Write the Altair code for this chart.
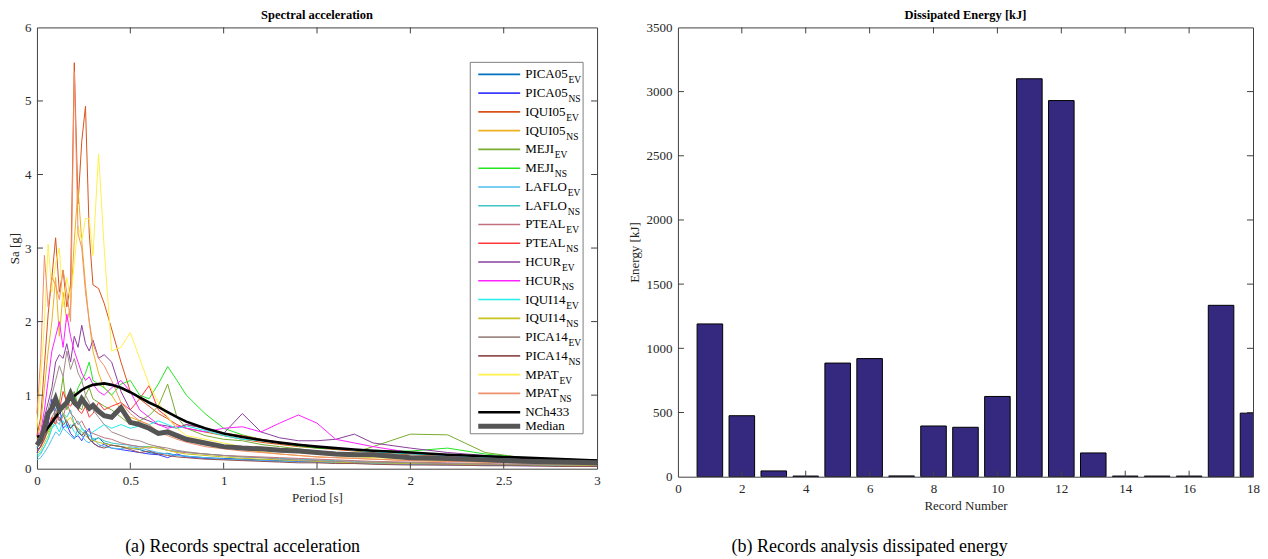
import altair as alt
import pandas as pd

SERIF = "Liberation Serif"

# ---------------- data: spectral acceleration ----------------
periods = [0, 0.02, 0.04, 0.06, 0.08, 0.10, 0.12, 0.14, 0.16, 0.18,
           0.20, 0.22, 0.24, 0.26, 0.28, 0.30, 0.33, 0.36, 0.40, 0.45,
           0.50, 0.55, 0.60, 0.65, 0.70, 0.75, 0.80, 0.90, 1.0, 1.1,
           1.2, 1.3, 1.4, 1.5, 1.6, 1.7, 1.8, 2.0, 2.2, 2.4,
           2.6, 2.8, 3.0]

record_names = ["PICA05", "PICA05", "IQUI05", "IQUI05", "MEJI", "MEJI",
                "LAFLO", "LAFLO", "PTEAL", "PTEAL", "HCUR", "HCUR",
                "IQUI14", "IQUI14", "PICA14", "PICA14", "MPAT", "MPAT"]
record_comps = ["EV", "NS"] * 9
record_colors = ["#0072BD", "#3a3aff", "#D95319", "#EDB120", "#77AC30", "#22e622",
                 "#4DBEEE", "#40c4c4", "#c2727e", "#ff3838", "#8a3f9c", "#ff22ff",
                 "#22eeee", "#c8c420", "#a08a88", "#935050", "#fff04a", "#f0906c"]

sa_pica05_ev = [0.28, 0.35, 0.55, 0.70, 0.92, 0.80, 0.65, 0.75, 0.60, 0.55,
                0.62, 0.50, 0.45, 0.52, 0.40, 0.38, 0.42, 0.35, 0.32, 0.30,
                0.28, 0.26, 0.22, 0.20, 0.21, 0.18, 0.17, 0.15, 0.14, 0.13,
                0.12, 0.11, 0.10, 0.10, 0.09, 0.08, 0.08, 0.07, 0.06, 0.05,
                0.05, 0.04, 0.04]
sa_pica05_ns = [0.22, 0.30, 0.45, 0.60, 0.95, 0.70, 0.85, 0.55, 0.60, 0.48,
                0.42, 0.45, 0.38, 0.48, 0.55, 0.35, 0.30, 0.33, 0.28, 0.26,
                0.24, 0.22, 0.20, 0.19, 0.15, 0.20, 0.16, 0.14, 0.13, 0.12,
                0.11, 0.10, 0.10, 0.09, 0.08, 0.08, 0.07, 0.06, 0.05, 0.05,
                0.04, 0.04, 0.03]
sa_iqui05_ev = [0.45, 0.70, 1.40, 2.10, 2.60, 3.14, 2.40, 2.70, 2.20, 2.50,
                5.52, 3.60, 4.45, 4.93, 3.20, 2.50, 2.45, 2.25, 1.90, 1.45,
                1.05, 0.95, 0.85, 0.75, 0.68, 0.60, 0.55, 0.50, 0.45, 0.40,
                0.36, 0.33, 0.30, 0.28, 0.26, 0.24, 0.22, 0.19, 0.17, 0.15,
                0.13, 0.12, 0.11]
sa_iqui05_ns = [0.40, 0.60, 1.10, 1.60, 2.00, 2.60, 1.80, 2.40, 2.00, 2.20,
                3.10, 3.80, 3.10, 2.50, 2.00, 1.60, 1.30, 1.10, 1.00, 0.80,
                0.70, 0.65, 0.60, 0.50, 0.48, 0.42, 0.38, 0.33, 0.30, 0.26,
                0.23, 0.20, 0.18, 0.16, 0.15, 0.14, 0.13, 0.11, 0.10, 0.09,
                0.08, 0.07, 0.07]
sa_meji_ev = [0.30, 0.35, 0.45, 0.55, 0.65, 0.70, 0.90, 1.25, 0.80, 0.95,
              1.05, 0.85, 0.80, 1.00, 1.10, 0.95, 0.90, 0.85, 0.80, 0.70,
              0.60, 0.65, 0.72, 0.85, 1.15, 0.70, 0.55, 0.45, 0.40, 0.38,
              0.33, 0.30, 0.27, 0.24, 0.22, 0.22, 0.30, 0.47, 0.46, 0.22,
              0.15, 0.13, 0.11]
sa_meji_ns = [0.30, 0.35, 0.42, 0.50, 0.60, 0.75, 0.85, 0.80, 0.95, 1.00,
              0.90, 1.10, 1.20, 1.30, 1.45, 1.20, 1.15, 1.10, 1.00, 1.15,
              1.20, 1.00, 0.95, 1.15, 1.39, 1.20, 1.00, 0.75, 0.55, 0.46,
              0.40, 0.35, 0.31, 0.28, 0.27, 0.26, 0.25, 0.24, 0.28, 0.20,
              0.15, 0.13, 0.11]
sa_laflo_ev = [0.12, 0.15, 0.22, 0.30, 0.40, 0.50, 0.45, 0.55, 0.50, 0.45,
               0.40, 0.55, 0.45, 0.38, 0.35, 0.42, 0.33, 0.30, 0.28, 0.27,
               0.30, 0.28, 0.25, 0.22, 0.20, 0.18, 0.17, 0.15, 0.13, 0.12,
               0.11, 0.10, 0.09, 0.09, 0.08, 0.08, 0.07, 0.06, 0.06, 0.05,
               0.05, 0.04, 0.04]
sa_laflo_ns = [0.15, 0.20, 0.30, 0.40, 0.55, 0.65, 0.60, 0.75, 0.70, 0.80,
               0.60, 0.65, 0.55, 0.50, 0.45, 0.40, 0.42, 0.38, 0.35, 0.33,
               0.32, 0.30, 0.30, 0.28, 0.25, 0.24, 0.22, 0.20, 0.18, 0.16,
               0.15, 0.14, 0.13, 0.12, 0.11, 0.10, 0.09, 0.08, 0.07, 0.06,
               0.05, 0.05, 0.04]
sa_pteal_ev = [0.25, 0.30, 0.45, 0.55, 0.70, 0.80, 0.65, 0.70, 0.90, 0.75,
               0.70, 0.60, 0.65, 0.55, 0.50, 0.48, 0.45, 0.42, 0.40, 0.35,
               0.32, 0.30, 0.28, 0.30, 0.25, 0.23, 0.22, 0.20, 0.18, 0.17,
               0.16, 0.15, 0.14, 0.13, 0.12, 0.11, 0.10, 0.09, 0.08, 0.07,
               0.06, 0.06, 0.05]
sa_pteal_ns = [0.25, 0.30, 0.40, 0.55, 0.70, 0.60, 0.80, 1.05, 0.90, 0.85,
               0.95, 0.80, 0.75, 0.85, 0.70, 0.75, 0.90, 0.80, 0.85, 0.90,
               0.80, 0.95, 1.13, 0.80, 0.70, 0.55, 0.60, 0.55, 0.48, 0.45,
               0.40, 0.36, 0.33, 0.30, 0.28, 0.26, 0.24, 0.20, 0.18, 0.16,
               0.14, 0.13, 0.12]
sa_hcur_ev = [0.35, 0.45, 0.70, 0.90, 1.10, 1.45, 1.55, 1.50, 1.70, 1.45,
              1.80, 1.65, 1.95, 1.70, 1.60, 1.75, 1.50, 1.55, 1.45, 1.05,
              0.80, 0.70, 0.65, 0.60, 0.58, 0.55, 0.60, 0.55, 0.48, 0.75,
              0.50, 0.42, 0.38, 0.38, 0.40, 0.47, 0.35, 0.28, 0.22, 0.18,
              0.15, 0.13, 0.12]
sa_hcur_ns = [0.45, 0.50, 0.80, 1.20, 1.60, 1.80, 2.00, 1.65, 2.10, 1.80,
              1.60, 1.45, 1.30, 1.20, 1.25, 1.15, 1.05, 1.00, 1.10, 1.20,
              1.05, 0.80, 0.70, 0.60, 0.55, 0.58, 0.55, 0.50, 0.55, 0.57,
              0.50, 0.62, 0.73, 0.62, 0.40, 0.35, 0.30, 0.22, 0.18, 0.15,
              0.13, 0.12, 0.10]
sa_iqui14_ev = [0.18, 0.22, 0.30, 0.40, 0.55, 0.60, 0.50, 0.65, 0.55, 0.60,
                0.50, 0.45, 0.55, 0.48, 0.45, 0.50, 0.55, 0.60, 0.55, 0.60,
                0.55, 0.58, 0.60, 0.65, 0.60, 0.55, 0.58, 0.52, 0.45, 0.40,
                0.38, 0.35, 0.33, 0.30, 0.28, 0.25, 0.23, 0.20, 0.18, 0.15,
                0.13, 0.12, 0.10]
sa_iqui14_ns = [0.20, 0.25, 0.35, 0.45, 0.60, 0.70, 0.85, 0.75, 0.65, 0.70,
                0.60, 0.55, 0.50, 0.45, 0.40, 0.38, 0.36, 0.34, 0.32, 0.30,
                0.28, 0.27, 0.30, 0.28, 0.25, 0.22, 0.20, 0.18, 0.16, 0.14,
                0.13, 0.12, 0.11, 0.10, 0.09, 0.08, 0.08, 0.07, 0.06, 0.06,
                0.05, 0.05, 0.04]
sa_pica14_ev = [0.30, 0.40, 0.60, 0.80, 1.00, 1.20, 1.40, 1.25, 1.60, 1.35,
                1.50, 1.30, 1.20, 1.00, 0.90, 0.80, 0.70, 0.60, 0.50, 0.45,
                0.40, 0.38, 0.33, 0.30, 0.28, 0.25, 0.23, 0.20, 0.18, 0.16,
                0.15, 0.13, 0.12, 0.11, 0.10, 0.09, 0.09, 0.08, 0.07, 0.06,
                0.06, 0.05, 0.05]
sa_pica14_ns = [0.25, 0.30, 0.40, 0.55, 0.65, 0.75, 0.70, 0.60, 0.65, 0.55,
                0.60, 0.50, 0.45, 0.50, 0.40, 0.35, 0.30, 0.28, 0.32, 0.30,
                0.26, 0.22, 0.24, 0.20, 0.18, 0.16, 0.15, 0.13, 0.12, 0.11,
                0.10, 0.09, 0.08, 0.08, 0.07, 0.07, 0.06, 0.05, 0.05, 0.04,
                0.04, 0.03, 0.03]
sa_mpat_ev = [0.55, 1.20, 2.00, 3.05, 2.40, 2.80, 3.00, 2.20, 2.60, 2.30,
              2.80, 3.30, 3.10, 3.40, 3.40, 2.90, 4.28, 3.00, 1.60, 1.65,
              1.85, 1.50, 1.15, 0.90, 0.70, 0.55, 0.45, 0.40, 0.35, 0.30,
              0.27, 0.24, 0.22, 0.20, 0.18, 0.16, 0.15, 0.13, 0.11, 0.10,
              0.09, 0.08, 0.07]
sa_mpat_ns = [0.75, 1.50, 2.90, 2.20, 2.60, 2.50, 2.30, 2.70, 2.40, 2.00,
              5.40, 3.20, 3.00, 2.40, 2.00, 1.70, 1.50, 1.40, 1.20, 0.90,
              0.75, 0.65, 0.60, 0.50, 0.45, 0.40, 0.36, 0.30, 0.27, 0.24,
              0.22, 0.20, 0.18, 0.16, 0.15, 0.14, 0.13, 0.11, 0.10, 0.09,
              0.08, 0.07, 0.06]
sa_nch433 = [0.43, 0.45, 0.50, 0.56, 0.63, 0.70, 0.77, 0.84, 0.90, 0.95,
             0.99, 1.03, 1.07, 1.10, 1.12, 1.14, 1.15, 1.16, 1.14, 1.10,
             1.04, 0.97, 0.90, 0.84, 0.77, 0.70, 0.64, 0.55, 0.48, 0.43,
             0.39, 0.355, 0.325, 0.30, 0.28, 0.26, 0.245, 0.22, 0.19, 0.17,
             0.15, 0.13, 0.11]
sa_median = [0.32, 0.40, 0.55, 0.75, 0.82, 0.95, 0.80, 0.85, 0.90, 1.02,
             0.90, 0.85, 0.95, 0.88, 0.82, 0.86, 0.78, 0.72, 0.70, 0.83,
             0.63, 0.60, 0.55, 0.48, 0.50, 0.45, 0.40, 0.35, 0.30, 0.28,
             0.27, 0.25, 0.24, 0.22, 0.20, 0.19, 0.19, 0.15, 0.14, 0.12,
             0.10, 0.09, 0.08]

series_values = [sa_pica05_ev, sa_pica05_ns, sa_iqui05_ev, sa_iqui05_ns,
                 sa_meji_ev, sa_meji_ns, sa_laflo_ev, sa_laflo_ns,
                 sa_pteal_ev, sa_pteal_ns, sa_hcur_ev, sa_hcur_ns,
                 sa_iqui14_ev, sa_iqui14_ns, sa_pica14_ev, sa_pica14_ns,
                 sa_mpat_ev, sa_mpat_ns]

# ---------------- data: dissipated energy ----------------
record_numbers = list(range(1, 19))
energy_kj = [1190, 475, 45, 5, 885, 920, 6, 395, 385, 625,
             3100, 2930, 185, 5, 5, 5, 1335, 495]

title_left = "Spectral acceleration"
title_right = "Dissipated Energy [kJ]"
caption_left = "(a) Records spectral acceleration"
caption_right = "(b) Records analysis dissipated energy"
legend_extra = ["NCh433", "Median"]

# ---------------- tables ----------------
keys = [f"{n}_{c}" for n, c in zip(record_names, record_comps)]
rows = []
for k, vals in zip(keys, series_values):
    for t, v in zip(periods, vals):
        rows.append({"key": k, "T": t, "Sa": v})
df_rec = pd.DataFrame(rows)
df_nch = pd.DataFrame({"T": periods, "Sa": sa_nch433})
df_med = pd.DataFrame({"T": periods, "Sa": sa_median})

# Times-like glyph widths (per 1000 em) to place legend subscripts
char_w = {"P": 556, "I": 333, "C": 667, "A": 722, "Q": 722, "U": 722, "M": 889,
          "E": 611, "J": 389, "L": 611, "F": 556, "O": 722, "T": 611, "H": 722,
          "R": 667, "N": 722}
kern = {("P", "A"): -92, ("A", "T"): -111}
LEG_FS = 13


def text_w(s, size):
    w = sum(char_w.get(ch, 500) for ch in s)
    w += sum(kern.get((a, b), 0) for a, b in zip(s, s[1:]))
    return w * size / 1000.0


leg = pd.DataFrame({
    "key": keys + legend_extra,
    "label": record_names + legend_extra,
    "sub": record_comps + ["", ""],
    "row": list(range(20)),
})
leg["sx"] = [489 + text_w(n, LEG_FS) + 0.8 for n in leg["label"]]

df_bar = pd.DataFrame({"rec": record_numbers, "energy": energy_kj})

AX = "#404040"


def xticks(vals, scale, axis, h, tl=6):
    d = pd.DataFrame({"v": vals})
    b = alt.Chart(d).mark_rule(color=AX, strokeWidth=1).encode(
        x=alt.X("v:Q", scale=scale, axis=axis), y=alt.value(h), y2=alt.value(h - tl))
    t = alt.Chart(d).mark_rule(color=AX, strokeWidth=1).encode(
        x=alt.X("v:Q", scale=scale, axis=axis), y=alt.value(0), y2=alt.value(tl))
    return [b, t]


def yticks(vals, scale, axis, w, tl=6):
    d = pd.DataFrame({"v": vals})
    l = alt.Chart(d).mark_rule(color=AX, strokeWidth=1).encode(
        y=alt.Y("v:Q", scale=scale, axis=axis), x=alt.value(0), x2=alt.value(tl))
    r = alt.Chart(d).mark_rule(color=AX, strokeWidth=1).encode(
        y=alt.Y("v:Q", scale=scale, axis=axis), x=alt.value(w), x2=alt.value(w - tl))
    return [l, r]


# ---------------- left panel ----------------
W1, H1 = 561, 442
xs1 = alt.Scale(domain=[0, 3], nice=False, zero=False)
ys1 = alt.Scale(domain=[0, 6], nice=False)
color_scale = alt.Scale(domain=keys, range=record_colors)

x_axis1 = alt.Axis(values=[0, 0.5, 1, 1.5, 2, 2.5, 3], labelExpr="'' + datum.value",
                   title="Period [s]", titlePadding=4)
y_axis1 = alt.Axis(values=[0, 1, 2, 3, 4, 5, 6], title="Sa [g]", titlePadding=3)

rec_lines = alt.Chart(df_rec).mark_line(strokeWidth=1).encode(
    x=alt.X("T:Q", scale=xs1, axis=x_axis1),
    y=alt.Y("Sa:Q", scale=ys1, axis=y_axis1),
    color=alt.Color("key:N", scale=color_scale, legend=None),
)
nch_line = alt.Chart(df_nch).mark_line(strokeWidth=2.6, color="black").encode(
    x=alt.X("T:Q", scale=xs1, axis=x_axis1), y=alt.Y("Sa:Q", scale=ys1, axis=y_axis1))
med_line = alt.Chart(df_med).mark_line(strokeWidth=5, color="#555555").encode(
    x=alt.X("T:Q", scale=xs1, axis=x_axis1), y=alt.Y("Sa:Q", scale=ys1, axis=y_axis1))

ticks1 = (xticks([0.5, 1, 1.5, 2, 2.5], xs1, x_axis1, H1)
          + yticks([1, 2, 3, 4, 5], ys1, y_axis1, W1))

# legend (drawn on top)
leg_box = alt.Chart(pd.DataFrame({"a": [0]})).mark_rect(
    fill="white", stroke="#808080", strokeWidth=1).encode(
    x=alt.value(434), x2=alt.value(547), y=alt.value(35), y2=alt.value(407))
leg_base = alt.Chart(leg).transform_calculate(
    ly="datum.row < 18 ? 47 + 18.8 * datum.row : 385.4 + 14 * (datum.row - 18)")
ly_enc = alt.Y("ly:Q", scale=None)
leg_rec = leg_base.transform_filter("datum.row < 18").mark_rule(strokeWidth=1.6).encode(
    x=alt.value(442), x2=alt.value(484), y=ly_enc,
    color=alt.Color("key:N", scale=color_scale, legend=None))
leg_nch = leg_base.transform_filter("datum.row == 18").mark_rule(
    strokeWidth=2.6, color="black").encode(x=alt.value(442), x2=alt.value(484), y=ly_enc)
leg_med = leg_base.transform_filter("datum.row == 19").mark_rule(
    strokeWidth=5, color="#555555").encode(x=alt.value(442), x2=alt.value(484), y=ly_enc)
leg_txt = leg_base.mark_text(align="left", baseline="middle", font=SERIF,
                             fontSize=LEG_FS, color="black").encode(
    x=alt.value(489), y=ly_enc, text="label:N")
leg_sub = leg_base.transform_filter("datum.row < 18").mark_text(
    align="left", baseline="middle", font=SERIF, fontSize=9.5, color="black", dy=6).encode(
    x=alt.X("sx:Q", scale=None), y=ly_enc, text="sub:N")

cap_left = alt.Chart(pd.DataFrame({"t": [caption_left]})).mark_text(
    font=SERIF, fontSize=18, color="black", align="center", baseline="middle").encode(
    x=alt.value(206), y=alt.value(520), text="t:N")

left = alt.layer(rec_lines, nch_line, med_line, *ticks1,
                 leg_box, leg_rec, leg_nch, leg_med, leg_txt, leg_sub, cap_left).properties(
    width=W1, height=H1,
    title=alt.Title(title_left, offset=0))

# ---------------- right panel ----------------
W2, H2 = 576, 450
xs2 = alt.Scale(domain=[0, 18], nice=False, zero=False)
ys2 = alt.Scale(domain=[0, 3500], nice=False)
x_axis2 = alt.Axis(values=list(range(0, 19, 2)), format="d", title="Record Number",
                   titlePadding=4)
y_axis2 = alt.Axis(values=list(range(0, 3501, 500)), format="d", title="Energy [kJ]",
                   titlePadding=4)

bars = alt.Chart(df_bar).transform_calculate(
    x0="datum.rec - 0.4", x1="datum.rec + 0.4", base="0").mark_bar(
    fill="#34297f", stroke="black", strokeWidth=1, clip=True).encode(
    x=alt.X("x0:Q", scale=xs2, axis=x_axis2),
    x2="x1:Q",
    y=alt.Y("energy:Q", scale=ys2, axis=y_axis2),
    y2="base:Q",
)
ticks2 = (xticks(list(range(2, 18, 2)), xs2, x_axis2, H2)
          + yticks(list(range(500, 3500, 500)), ys2, y_axis2, W2))

cap_right = alt.Chart(pd.DataFrame({"t": [caption_right]})).mark_text(
    font=SERIF, fontSize=18, color="black", align="center", baseline="middle").encode(
    x=alt.value(192), y=alt.value(520), text="t:N")

right = alt.layer(bars, *ticks2, cap_right).properties(
    width=W2, height=H2,
    title=alt.Title(title_right, offset=0))

chart = alt.hconcat(left, right, spacing=20).properties(padding=0).configure_view(
    stroke=AX, strokeWidth=1
).configure_axis(
    labelFont=SERIF, labelFontSize=13, labelColor="#262626",
    titleFont=SERIF, titleFontSize=13, titleFontWeight="normal", titleColor="#262626",
    grid=False, domain=False, ticks=False, tickSize=0, labelPadding=6, labelFlush=False
).configure_title(
    font=SERIF, fontSize=12.5, fontWeight="bold", color="black", anchor="middle"
)

chart.save("out.html", embed_options={"renderer": "svg", "actions": False})
